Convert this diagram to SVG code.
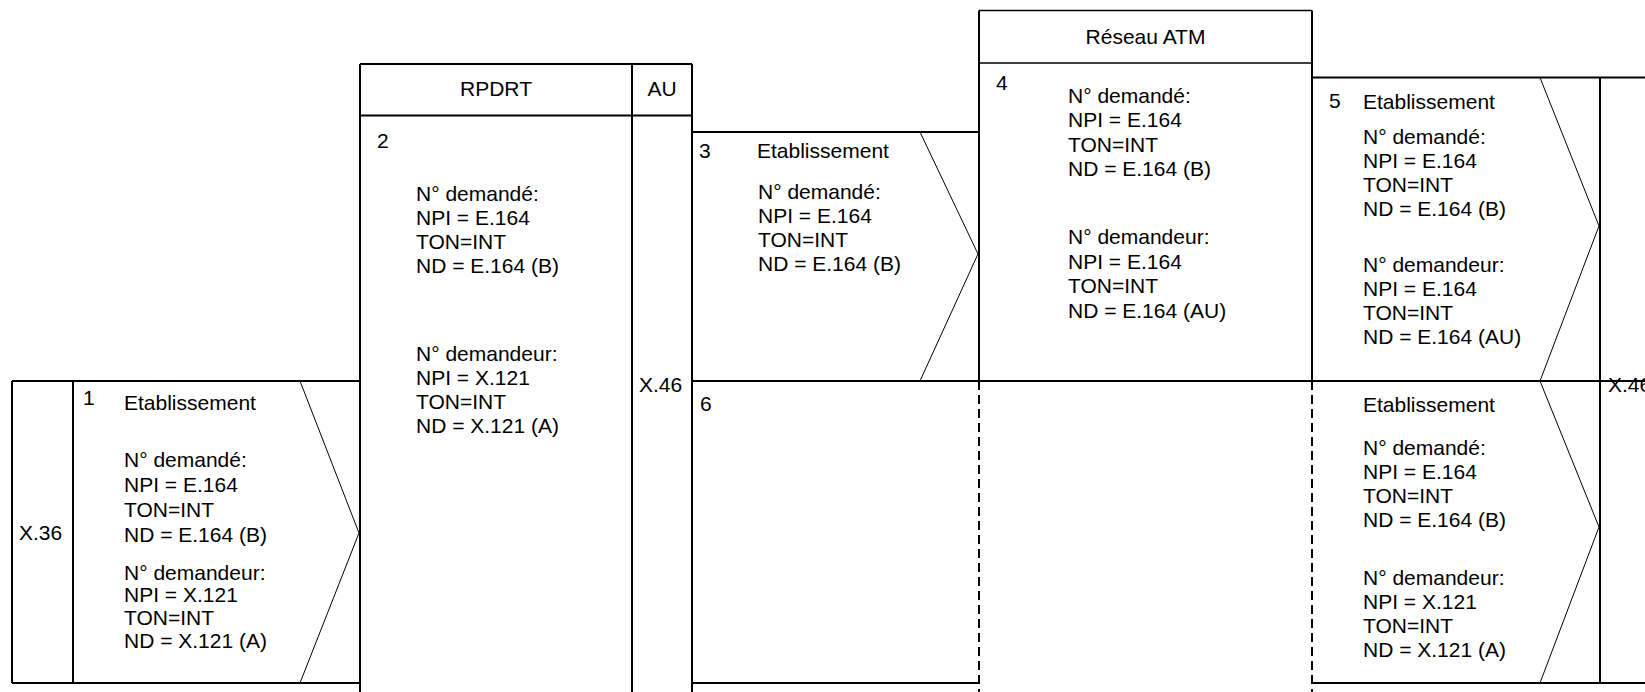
<svg xmlns="http://www.w3.org/2000/svg" width="1645" height="692" viewBox="0 0 1645 692">
<style>
text{font-family:"Liberation Sans",Arial,sans-serif;font-size:21px;fill:#000}
.b{stroke:#000;stroke-width:2;fill:none}
.t{stroke:#000;stroke-width:1;fill:none}
.d{stroke:#000;stroke-width:2;fill:none;stroke-dasharray:9 5}
.c{text-anchor:middle}
</style>
<rect width="1645" height="692" fill="#fff"/>
<g id="connectors">
<path class="b" d="M12 381H360M692 381H1645M12 683H360M692 683H979M1312 683H1645M692 132H979M1312 77.6H1645"/>
<path class="b" d="M12 381V683M73 381V683M360 64V692M632 64V692M692 64V692M979 10.5V381M1312 10.5V381M1600 77.6V683"/>
<path class="d" d="M979 381V692M1312 381V692"/>
</g>
<g id="node-rpdrt-header">
<path class="b" d="M360 64H692M360 115.4H692"/>
<text class="c" x="496" y="96">RPDRT</text>
<text class="c" x="662" y="96">AU</text>
</g>
<g id="node-atm-header">
<path class="b" d="M979 10.5H1312M979 63H1312" style="stroke-width:1.5"/>
<text class="c" x="1145.5" y="44">Réseau ATM</text>
</g>
<g id="node-1">
<path class="t" d="M300 381L359 533L300 683"/>
<text x="19" y="540">X.36</text>
<text x="83" y="405">1</text>
<text x="124" y="410">Etablissement</text>
<text x="124" y="467">N° demandé:</text>
<text x="124" y="492">NPI = E.164</text>
<text x="124" y="517">TON=INT</text>
<text x="124" y="542">ND = E.164 (B)</text>
<text x="124" y="580">N° demandeur:</text>
<text x="124" y="602">NPI = X.121</text>
<text x="124" y="625">TON=INT</text>
<text x="124" y="648">ND = X.121 (A)</text>
</g>
<g id="node-2">
<text x="377" y="148">2</text>
<text x="416" y="201">N° demandé:</text>
<text x="416" y="225">NPI = E.164</text>
<text x="416" y="249">TON=INT</text>
<text x="416" y="273">ND = E.164 (B)</text>
<text x="416" y="361">N° demandeur:</text>
<text x="416" y="385">NPI = X.121</text>
<text x="416" y="409">TON=INT</text>
<text x="416" y="433">ND = X.121 (A)</text>
<text x="639" y="392">X.46</text>
</g>
<g id="node-3">
<path class="t" d="M920 132L978 254L920 381"/>
<text x="699" y="158">3</text>
<text x="757" y="158">Etablissement</text>
<text x="758" y="199">N° demandé:</text>
<text x="758" y="223">NPI = E.164</text>
<text x="758" y="247">TON=INT</text>
<text x="758" y="271">ND = E.164 (B)</text>
</g>
<g id="node-4">
<text x="996" y="90">4</text>
<text x="1068" y="103">N° demandé:</text>
<text x="1068" y="127">NPI = E.164</text>
<text x="1068" y="151.5">TON=INT</text>
<text x="1068" y="176">ND = E.164 (B)</text>
<text x="1068" y="244">N° demandeur:</text>
<text x="1068" y="268.5">NPI = E.164</text>
<text x="1068" y="293">TON=INT</text>
<text x="1068" y="317.5">ND = E.164 (AU)</text>
</g>
<g id="node-5">
<path class="t" d="M1540 77.6L1599 226L1540 381"/>
<text x="1329" y="108">5</text>
<text x="1363" y="109">Etablissement</text>
<text x="1363" y="144">N° demandé:</text>
<text x="1363" y="168">NPI = E.164</text>
<text x="1363" y="192">TON=INT</text>
<text x="1363" y="216">ND = E.164 (B)</text>
<text x="1363" y="272">N° demandeur:</text>
<text x="1363" y="296">NPI = E.164</text>
<text x="1363" y="320">TON=INT</text>
<text x="1363" y="344">ND = E.164 (AU)</text>
<text x="1608" y="392">X.46</text>
</g>
<g id="node-6">
<text x="700" y="411">6</text>
</g>
<g id="node-7">
<path class="t" d="M1540 381L1599 527L1540 683"/>
<text x="1363" y="412">Etablissement</text>
<text x="1363" y="455">N° demandé:</text>
<text x="1363" y="479">NPI = E.164</text>
<text x="1363" y="503">TON=INT</text>
<text x="1363" y="527">ND = E.164 (B)</text>
<text x="1363" y="585">N° demandeur:</text>
<text x="1363" y="609">NPI = X.121</text>
<text x="1363" y="633">TON=INT</text>
<text x="1363" y="657">ND = X.121 (A)</text>
</g>
</svg>
